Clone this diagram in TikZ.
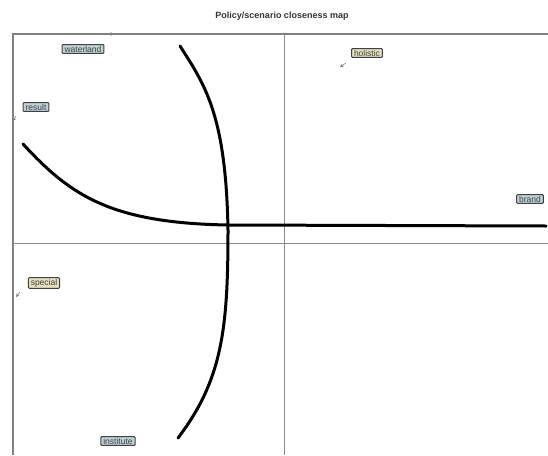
\documentclass[tikz,border=0pt]{standalone}
\usepackage{fontspec}
\setmainfont{Liberation Sans}
\usetikzlibrary{arrows.meta}
\definecolor{bluegrey}{HTML}{BFD2D6}
\definecolor{beige}{HTML}{E4DFBE}
\definecolor{framegrey}{HTML}{8A8A8A}
\tikzset{
  lbl/.style={draw=black!75, line width=1pt, rounded corners=1pt, inner xsep=2.5pt, inner ysep=1.3pt,
     font=\fontsize{8.5}{9}\selectfont, text=black!75},
  lblb/.style={lbl, fill=bluegrey},
  lbly/.style={lbl, fill=beige},
  pin/.style={draw=gray, line width=0.6pt, -{Stealth[length=3.5pt,width=3.5pt]}},
  curve/.style={line width=3pt, line cap=round},
  axis/.style={draw=framegrey, line width=0.5pt},
}
\begin{document}
\begin{tikzpicture}[x=1pt,y=-1pt]
\useasboundingbox (0,0) rectangle (548,455);
\node[font=\bfseries\fontsize{9}{10}\selectfont, text=black!80] (title) at (282,16) {Policy/scenario closeness map};
% frame
\draw[draw=gray, line width=1.4pt] (13,455) -- (13,34) -- (548,34);
\draw[axis] (284,34) -- (284,455);
\draw[axis] (13,243) -- (548,243);
% curves
\draw[curve] (180,46) .. controls (205,85) and (226,115) .. (228,230) .. controls (228,330) and (222,380) .. (178,438);
\draw[curve] (23,144) .. controls (70,195) and (110,223) .. (228,225) -- (546,226);
% labels
\node[lblb] (waterland) at (83,49) {waterland};
\node[lbly] (holistic) at (367,53) {holistic};
\node[lblb] (result) at (36,107) {result};
\node[lblb] (brand) at (530,199) {brand};
\node[lbly] (special) at (44,283) {special};
\node[lblb] (institute) at (118,441) {institute};
% pins
\coordinate (pw) at (114,34);
\coordinate (ph) at (340,67);
\coordinate (pr) at (13,121);
\coordinate (ps) at (16,297);
\coordinate (pwa) at (108,34);
\coordinate (pha) at (346,63);
\coordinate (pra) at (16,116);
\coordinate (psa) at (20,292);
\draw[pin] (pwa) -- (pw);
\draw[pin] (pha) -- (ph);
\draw[pin] (pra) -- (pr);
\draw[pin] (psa) -- (ps);
\end{tikzpicture}
\end{document}
